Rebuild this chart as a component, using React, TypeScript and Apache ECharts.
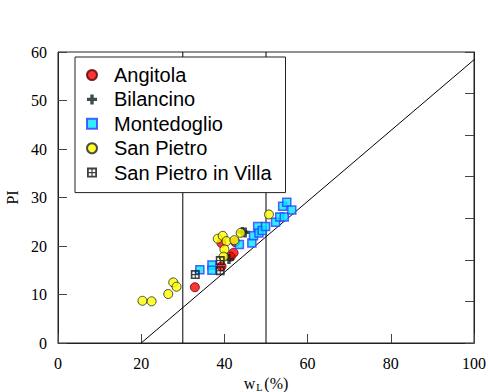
import React, { useEffect, useRef } from "react";
import * as echarts from "echarts";

const seriesNames = ["Angitola", "Bilancino", "Montedoglio", "San Pietro", "San Pietro in Villa"];

const angitola: number[][] = [
  [32.9, 11.5], [39.3, 20.6], [42.6, 20.8], [42.2, 18.6], [41.5, 17.8], [39.3, 15.8],
];
const bilancino: number[][] = [
  [44.3, 22.9], [45.0, 22.8], [41.1, 17.3],
];
const montedoglio: number[][] = [
  [34.1, 15.1], [37.0, 16.1], [37.0, 15.0], [43.6, 20.3], [46.6, 20.6], [47.0, 22.1],
  [48.0, 24.0], [48.3, 22.7], [49.1, 23.2], [49.9, 24.0], [52.3, 24.9], [53.3, 26.0],
  [54.4, 26.0], [54.0, 28.2], [55.0, 29.0], [56.2, 27.4],
];
const sanPietro: number[][] = [
  [20.3, 8.7], [22.5, 8.6], [26.5, 10.1], [27.7, 12.5], [28.5, 11.6],
  [38.4, 21.5], [39.6, 22.1], [40.5, 21.0], [42.4, 21.2], [43.9, 22.7],
  [40.0, 19.3], [39.8, 17.8], [50.7, 26.5],
];
const sanPietroVilla: number[][] = [
  [33.0, 14.1], [39.0, 17.0], [39.0, 14.9],
];
const aLine: number[][] = [[20, 0], [100, 58.4]];
const line30: number[][] = [[30, 0], [30, 60]];
const line50: number[][] = [[50, 0], [50, 60]];

const PLUS = "path://M3.3,0H6.7V3.3H10V6.7H6.7V10H3.3V6.7H0V3.3H3.3Z";
const BOXPLUS =
  "path://M0,0H10V10H0Z M1.8,1.8V4.4H4.4V1.8Z M5.6,1.8V4.4H8.2V1.8Z M1.8,5.6V8.2H4.4V5.6Z M5.6,5.6V8.2H8.2V5.6Z";

const serif = "Liberation Serif";
const sans = "Liberation Sans";

export default function App() {
  const ref = useRef<HTMLDivElement>(null);
  useEffect(() => {
    document.body.style.margin = "0";
    if (!ref.current) return;
    const chart = echarts.init(ref.current, undefined, { renderer: "svg" });
    const refLine = (data: number[][]) => ({
      type: "line",
      data,
      symbol: "none",
      silent: true,
      lineStyle: { color: "#000", width: 1 },
      z: 1,
    });
    chart.setOption({
      animation: false,
      backgroundColor: "#fff",
      grid: {
        left: 58,
        right: 14,
        top: 52,
        bottom: 49,
        outerBoundsMode: "none",
        containLabel: false,
        show: true,
        borderColor: "#222",
        borderWidth: 1,
        backgroundColor: "transparent",
      },
      legend: {
        data: seriesNames,
        orient: "vertical",
        left: 75,
        top: 57,
        padding: [8, 14, 10, 11],
        itemWidth: 10,
        itemHeight: 10,
        itemGap: 4.4,
        backgroundColor: "#fff",
        borderColor: "#222",
        borderWidth: 1,
        borderRadius: 0,
        textStyle: {
          fontFamily: sans,
          fontSize: 20,
          color: "#000",
          padding: [0, 0, 0, 12],
        },
      },
      xAxis: {
        type: "value",
        min: 0,
        max: 100,
        interval: 20,
        name: "{a|w}{b|L}{a|(%)}",
        nameLocation: "middle",
        nameGap: 16,
        nameTextStyle: {
          rich: {
            a: { fontFamily: serif, fontSize: 16, color: "#000" },
            b: { fontFamily: serif, fontSize: 10, color: "#000", padding: [7, 2, 0, 1] },
          },
        },
        axisLine: { show: true, lineStyle: { color: "#222", width: 1 } },
        axisTick: { show: true, inside: true, length: 9, lineStyle: { color: "#444" } },
        axisLabel: { fontFamily: serif, fontSize: 16, color: "#000", margin: 12 },
        splitLine: { show: false },
      },
      yAxis: [
        {
          type: "value",
          min: 0,
          max: 60,
          interval: 10,
          name: "PI",
          nameLocation: "middle",
          nameGap: 34,
          nameTextStyle: { fontFamily: serif, fontSize: 16, color: "#000" },
          axisLine: { show: true, lineStyle: { color: "#222", width: 1 } },
          axisTick: { show: true, inside: true, length: 9, lineStyle: { color: "#444" } },
          axisLabel: { fontFamily: serif, fontSize: 16, color: "#000", margin: 11 },
          splitLine: { show: false },
        },
        {
          type: "value",
          min: 0,
          max: 70,
          interval: 10,
          position: "right",
          axisLine: { show: true, lineStyle: { color: "#222", width: 1 } },
          axisTick: { show: true, inside: true, length: 9, lineStyle: { color: "#444" } },
          axisLabel: { show: false },
          splitLine: { show: false },
        },
      ],
      series: [
        refLine(aLine),
        refLine(line30),
        refLine(line50),
        {
          name: "Angitola",
          type: "scatter",
          data: angitola,
          symbol: "circle",
          symbolSize: 9,
          itemStyle: { color: "#ff0000", borderColor: "#550000", borderWidth: 1 },
          z: 3,
        },
        {
          name: "Bilancino",
          type: "scatter",
          data: bilancino,
          symbol: PLUS,
          symbolSize: 10,
          itemStyle: { color: "#0d1f1f" },
          z: 3,
        },
        {
          name: "Montedoglio",
          type: "scatter",
          data: montedoglio,
          symbol: "rect",
          symbolSize: 8,
          itemStyle: { color: "#00e8ff", borderColor: "#2a3cff", borderWidth: 1.5 },
          z: 3,
        },
        {
          name: "San Pietro",
          type: "scatter",
          data: sanPietro,
          symbol: "circle",
          symbolSize: 9,
          itemStyle: { color: "#ffff00", borderColor: "#222", borderWidth: 1 },
          z: 3,
        },
        {
          name: "San Pietro in Villa",
          type: "scatter",
          data: sanPietroVilla,
          symbol: BOXPLUS,
          symbolSize: 9,
          itemStyle: { color: "#111" },
          z: 3,
        },
      ],
    });
    return () => chart.dispose();
  }, []);
  return <div ref={ref} style={{ width: 488, height: 392 }} />;
}
